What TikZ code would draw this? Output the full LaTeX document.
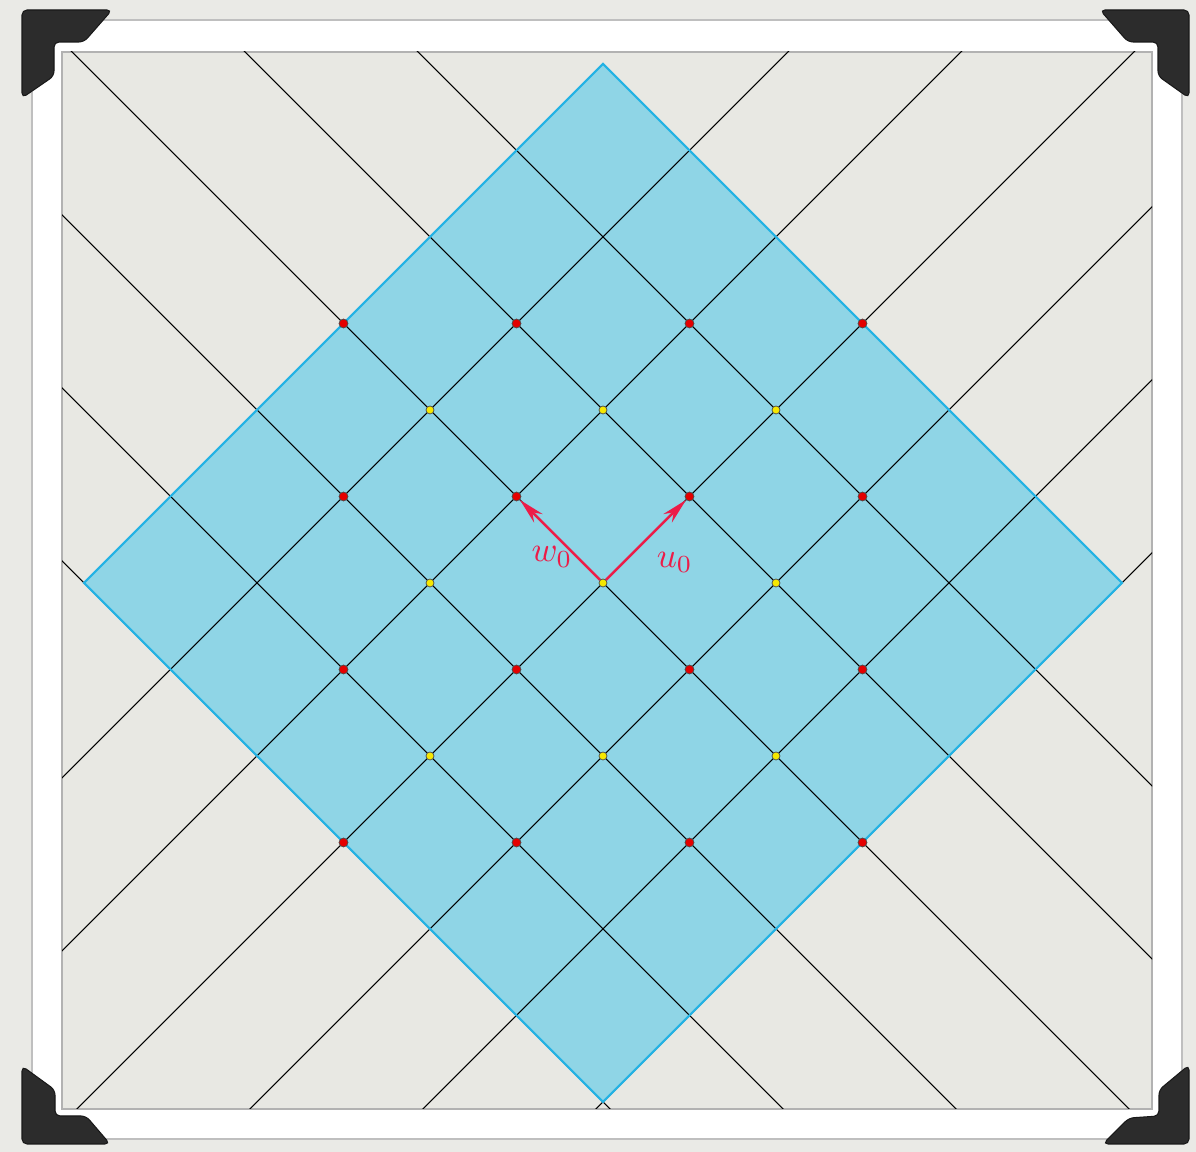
\documentclass[tikz,border=0pt]{standalone}
\usepackage{amsmath, amssymb}
\usepackage{tikz}
\usetikzlibrary{arrows.meta,positioning}
\definecolor{PageGrey}{RGB}{234, 234, 230}
\definecolor{PanelGrey}{RGB}{232, 232, 227}
\definecolor{CornerBlack}{RGB}{44, 44, 44}
\definecolor{RegionBlue}{RGB}{143, 213, 230}
\definecolor{RegionEdge}{RGB}{35, 178, 228}
\definecolor{VecRed}{RGB}{236, 28, 72}
\definecolor{DotRed}{RGB}{228, 0, 0}
\definecolor{DotYellow}{RGB}{246, 232, 0}

\tikzset{
  reddot/.style={circle, draw=black!70, fill=DotRed, inner sep=0pt, minimum size=0.9mm, line width=0.2pt},
  yellowdot/.style={circle, draw=black!70, fill=DotYellow, inner sep=0pt, minimum size=0.8mm, line width=0.2pt},
  vec/.style={VecRed, line width=0.7pt, -{Stealth[length=2.6mm,width=1.2mm]}},
  veclabel/.style={text=VecRed, inner sep=0pt},
  gridline/.style={black, line width=0.3pt},
  photocorner/.style={fill=CornerBlack, draw=black!90, line width=0.3pt, rounded corners=0.5mm}
}

\begin{document}
\begin{tikzpicture}[x=0.1mm, y=-0.1mm]
    % Page and frame
    \fill[PageGrey] (0,0) rectangle (1196,1152);
    \useasboundingbox (0,0) rectangle (1196,1152);
    \filldraw[fill=white, draw=black!25, line width=0.4pt] (32,20) rectangle (1182,1139);
    \filldraw[fill=PanelGrey, draw=black!30, line width=0.4pt] (62,52) rectangle (1152,1109);

    \begin{scope}
      \clip (62,52) rectangle (1152,1109);
      \begin{scope}[shift={(603,583)}, x=0.865cm, y=0.865cm]
        % Region
        \fill[RegionBlue] (0,6) -- (6,0) -- (0,-6) -- (-6,0) -- cycle;

        % Lattice lines (the two upper edges of the region are not extended)
        \foreach \k in {-3,...,2}
          \draw[gridline] ({2*\k-8},8) -- ({2*\k+8},-8);
        \foreach \m in {-2,...,3}
          \draw[gridline] ({2*\m-8},-8) -- ({2*\m+8},8);
        \draw[RegionEdge, line width=0.6pt] (0,6) -- (6,0) -- (0,-6) -- (-6,0) -- cycle;

        % Points
        \foreach \a in {-3,-1,1,3}
          \foreach \b in {-3,-1,1,3}
            \node[reddot] (r\a\b) at (\a,\b) {};
        \foreach \a in {-2,0,2}
          \foreach \b in {-2,0,2}
            \node[yellowdot] (y\a\b) at (\a,\b) {};

        % Basis vectors
        \draw[vec] (y00) -- (r-11);
        \draw[vec] (y00) -- (r11);
        \node[veclabel] (wlab) at (-0.59,0.30) {$w_0$};
        \node[veclabel] (ulab) at (0.83,0.24) {$u_0$};
      \end{scope}
    \end{scope}

    % Photo corners
    \fill[photocorner] (22,10) -- (112,10) -- (84,42) -- (54,42) -- (54,76) -- (22,98) -- cycle;
    \fill[photocorner] (1189,10) -- (1100,10) -- (1128,42) -- (1158,42) -- (1158,76) -- (1189,98) -- cycle;
    \fill[photocorner] (22,1144) -- (110,1144) -- (86,1116) -- (55,1116) -- (55,1090) -- (22,1066) -- cycle;
    \fill[photocorner] (1189,1144) -- (1103,1144) -- (1129,1118) -- (1159,1116) -- (1159,1090) -- (1189,1065) -- cycle;
  \end{tikzpicture}
\end{document}
